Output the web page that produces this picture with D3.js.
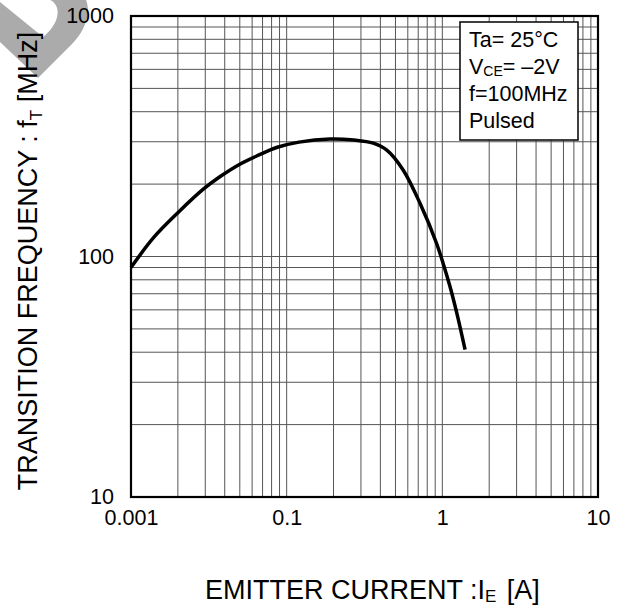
<!DOCTYPE html>
<html>
<head>
<meta charset="utf-8">
<script src="https://cdn.jsdelivr.net/npm/d3@7"></script>
<style>
  body { margin: 0; background: #fff; }
  svg { display: block; font-family: "Liberation Sans", Arial, sans-serif; }
</style>
</head>
<body>
<svg id="canvas" width="622" height="607"></svg>
<script>
// emitter current [A] vs transition frequency [MHz]
let current = [0.01, 0.014, 0.02, 0.029, 0.037, 0.05, 0.067, 0.086, 0.12, 0.19, 0.27, 0.36, 0.44, 0.56, 0.72, 0.92, 1.01, 1.12, 1.24, 1.40]
let ft      = [90,   120,   152,  190,   214,   242,  265,   284,   299,  308,  305,  296,  277,  229,  166,  113,  94,   75,   58,   41]

let xTickValues = [0.01, 0.1, 1, 10]
let xTickLabels = ["0.001", "0.1", "1", "10"]
let yTickValues = [10, 100, 1000]
let yTickLabels = ["10", "100", "1000"]

let legendLines = ["Ta= 25°C", "VCE", "f=100MHz", "Pulsed"]

let canvas = d3.select("#canvas")

let plotLeft = 131, plotRight = 598, plotTop = 16, plotBottom = 497

let x = d3.scaleLog().domain([0.01, 10]).range([plotLeft, plotRight])
let y = d3.scaleLog().domain([10, 1000]).range([plotBottom, plotTop])

// grey blot in the corner
canvas.append("path")
    .attr("d", "M0,2 L43,37 C52,30 60,18 57,8 C56,4 53,1 50,0 L86,0 C91,12 86,30 72,44 L38,78 L0,42 Z")
    .attr("fill", "#ababab")

// log grid
canvas.append("g")
    .selectAll("line")
    .data(x.ticks())
    .enter()
    .append("line")
    .attr("x1", d => x(d)).attr("x2", d => x(d))
    .attr("y1", plotTop).attr("y2", plotBottom)
    .attr("stroke", "#555").attr("stroke-width", 1)

canvas.append("g")
    .selectAll("line")
    .data(y.ticks())
    .enter()
    .append("line")
    .attr("y1", d => y(d)).attr("y2", d => y(d))
    .attr("x1", plotLeft).attr("x2", plotRight)
    .attr("stroke", "#555").attr("stroke-width", 1)

// curve
let line = d3.line()
    .x(d => x(d[0]))
    .y(d => y(d[1]))
    .curve(d3.curveCatmullRom.alpha(0.5))

canvas.append("path")
    .datum(current.map((c, i) => [c, ft[i]]))
    .attr("d", line)
    .attr("fill", "none")
    .attr("stroke", "#000")
    .attr("stroke-width", 3.5)
    .attr("stroke-linejoin", "round")

// frame
canvas.append("rect")
    .attr("x", plotLeft).attr("y", plotTop)
    .attr("width", plotRight - plotLeft).attr("height", plotBottom - plotTop)
    .attr("fill", "none").attr("stroke", "#000").attr("stroke-width", 2.2)

// axes (labels only)
let xAxis = d3.axisBottom(x)
    .tickValues(xTickValues)
    .tickFormat((d, i) => xTickLabels[i])
    .tickSize(0).tickPadding(13)

let gx = canvas.append("g")
    .attr("transform", "translate(0," + plotBottom + ")")
    .call(xAxis)
gx.select(".domain").remove()
gx.selectAll("text").attr("font-size", 21.5).attr("fill", "#000")
    .attr("font-family", "Liberation Sans, Arial, sans-serif")

let yAxis = d3.axisLeft(y)
    .tickValues(yTickValues)
    .tickFormat((d, i) => yTickLabels[i])
    .tickSize(0).tickPadding(17)

let gy = canvas.append("g")
    .attr("transform", "translate(" + plotLeft + ",0)")
    .call(yAxis)
gy.select(".domain").remove()
gy.selectAll("text").attr("font-size", 21.5).attr("fill", "#000")
    .attr("font-family", "Liberation Sans, Arial, sans-serif")

// legend box
canvas.append("rect")
    .attr("x", 460).attr("y", 22)
    .attr("width", 118).attr("height", 118)
    .attr("fill", "#fff").attr("stroke", "#000").attr("stroke-width", 1.5)

let legend = canvas.append("g").attr("font-size", 21.5)
legendLines.forEach((t, i) => {
    let txt = legend.append("text").attr("x", 469).attr("y", 47 + i * 27)
    if (t === "VCE") {
        txt.append("tspan").text("V")
        txt.append("tspan").text("CE").attr("font-size", 14).attr("dy", 2)
        txt.append("tspan").text("= \u20132V").attr("dy", -2)
    } else {
        txt.text(t)
    }
})

// axis titles
let xt = canvas.append("text")
    .attr("x", 205).attr("y", 599)
    .attr("font-size", 27)
xt.append("tspan").text("EMITTER CURRENT :I")
xt.append("tspan").text("E").attr("font-size", 17).attr("dy", 3)
xt.append("tspan").text(" [A]").attr("dy", -3).attr("dx", 3)

let yt = canvas.append("text")
    .attr("transform", "translate(37,261) rotate(-90)")
    .attr("text-anchor", "middle")
    .attr("font-size", 27)
yt.append("tspan").text("TRANSITION FREQUENCY : f")
yt.append("tspan").text("T").attr("font-size", 17).attr("dy", 5)
yt.append("tspan").text(" [MHz]").attr("dy", -5)
</script>
</body>
</html>
